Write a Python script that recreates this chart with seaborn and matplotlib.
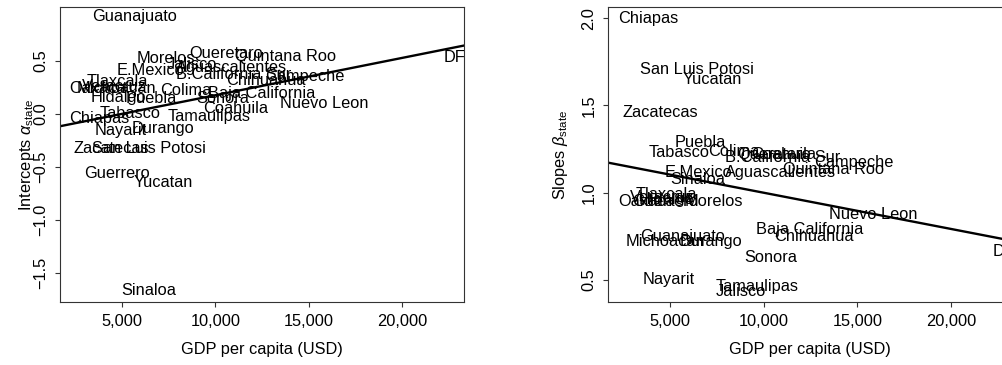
import seaborn as sns
import matplotlib.pyplot as plt
import pandas as pd
from matplotlib.ticker import FuncFormatter

# state labels, GDP per capita (USD), intercepts and slopes
states = ['Aguascalientes', 'Baja California', 'B.California Sur', 'Campeche',
          'Chiapas', 'Chihuahua', 'Coahuila', 'Colima', 'DF', 'Durango',
          'Guanajuato', 'Guerrero', 'Hidalgo', 'Jalisco', 'E.Mexico',
          'Michoacan', 'Morelos', 'Nayarit', 'Nuevo Leon', 'Oaxaca', 'Puebla',
          'Queretaro', 'Quintana Roo', 'San Luis Potosi', 'Sinaloa', 'Sonora',
          'Tabasco', 'Tamaulipas', 'Tlaxcala', 'Veracruz', 'Yucatan', 'Zacatecas']
gdp = [10870, 12450, 10980, 14790, 3800, 12700, 11080, 8400, 22800, 7170,
       5670, 4730, 4790, 8750, 6500, 4730, 7350, 4920, 15830, 3700, 6580,
       10560, 13740, 6420, 6450, 10370, 5450, 9660, 4760, 4600, 7230, 4450]
intercepts = [0.43, 0.19, 0.365, 0.345, -0.045, 0.315, 0.05, 0.22, 0.53, -0.14,
              0.91, -0.56, 0.155, 0.46, 0.41, 0.24, 0.515, -0.155, 0.10, 0.24,
              0.145, 0.57, 0.54, -0.325, -1.665, 0.145, 0.005, -0.025, 0.30,
              0.26, -0.65, -0.325]
slopes = [1.115, 0.787, 1.20, 1.172, 2.0, 0.747, 1.218, 1.236, 0.661, 0.718,
          0.747, 0.948, 0.96, 0.431, 1.115, 0.718, 0.948, 0.50, 0.874, 0.948,
          1.287, 1.218, 1.132, 1.707, 1.075, 0.626, 1.23, 0.46, 0.989, 0.97,
          1.649, 1.46]

# fitted lines (intercept, slope per USD)
alpha_fit = (-0.177, 3.51e-5)
beta_fit = (1.207, -2.073e-5)

x_ticks = [5000, 10000, 15000, 20000]
alpha_ticks = [-1.5, -1.0, -0.5, 0.0, 0.5]
beta_ticks = [0.5, 1.0, 1.5, 2.0]
x_range = (1684, 23290)

df = pd.DataFrame({'state': states, 'gdp': gdp,
                   'alpha': intercepts, 'beta': slopes})

sns.set_theme(style='ticks')
plt.rcParams['font.family'] = ['Liberation Sans', 'DejaVu Sans']
plt.rcParams['mathtext.fontset'] = 'custom'
plt.rcParams['mathtext.rm'] = 'Liberation Sans'
plt.rcParams['mathtext.it'] = 'Liberation Sans:italic'
plt.rcParams['text.color'] = 'black'
plt.rcParams['axes.labelcolor'] = 'black'
plt.rcParams['xtick.color'] = 'black'
plt.rcParams['ytick.color'] = 'black'
FS = 11.8

fig = plt.figure(figsize=(10.03, 3.65), dpi=100)
ax1 = fig.add_axes([0.0598, 0.1734, 0.4028, 0.8066])
ax2 = fig.add_axes([0.6065, 0.1734, 0.4028, 0.8066])


def panel(ax, col, fit, ylim, yticks, ylabel, ylab_x):
    for _, r in df.iterrows():
        ax.text(r['gdp'], r[col], r['state'], ha='center', va='center',
                fontsize=FS, color='black', clip_on=True)
    xs = list(x_range)
    ys = [fit[0] + fit[1] * v for v in xs]
    sns.lineplot(x=xs, y=ys, ax=ax, color='black', linewidth=1.7)
    ax.set_xlim(*x_range)
    ax.set_ylim(*ylim)
    ax.set_xticks(x_ticks)
    ax.xaxis.set_major_formatter(FuncFormatter(lambda v, p: f'{int(v):,}'))
    ax.set_yticks(yticks)
    ax.set_yticklabels([f'{v:.1f}'.replace('-', '\u2212') for v in yticks],
                       rotation=90, va='center')
    ax.tick_params(length=3.5, width=0.8, labelsize=FS, pad=5,
                   color='#333333', labelcolor='black')
    for s in ax.spines.values():
        s.set_linewidth(0.8)
        s.set_color('#333333')
    ax.set_xlabel('GDP per capita (USD)', fontsize=FS, color='black')
    ax.xaxis.set_label_coords(0.5, -0.164)
    ax.xaxis.label.set_va('center')
    ax.set_ylabel(ylabel, fontsize=FS, color='black')
    ax.yaxis.set_label_coords(ylab_x, 0.5)
    ax.yaxis.label.set_va('center')


panel(ax1, 'alpha', alpha_fit, (-1.767, 1.0), alpha_ticks,
      r'Intercepts $\alpha_{\mathrm{state}}$', -0.084)
panel(ax2, 'beta', beta_fit, (0.375, 2.063), beta_ticks,
      r'Slopes $\beta_{\mathrm{state}}$', -0.119)

fig.savefig('out.png', dpi=100)
plt.close(fig)
